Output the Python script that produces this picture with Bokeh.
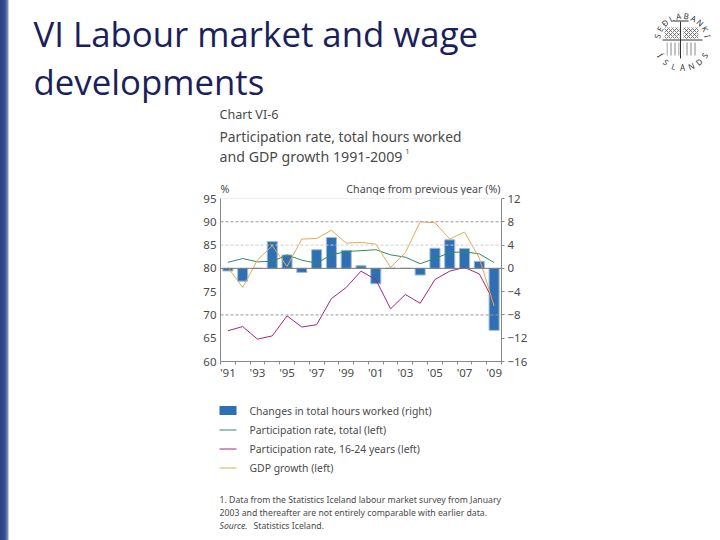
from bokeh.plotting import figure
from bokeh.models import Range1d, LinearAxis, FixedTicker, Span
from bokeh.core.properties import value
from bokeh.embed import file_html
from bokeh.resources import INLINE
import math

years = list(range(1991, 2010))
hours = [-0.45, -2.2, 0, 4.6, 2.3, -0.7, 3.2, 5.3, 3.1, 0.45, -2.65, 0, 0, -1.15, 3.45, 4.9, 3.4, 1.2, -10.65]
part_total = [81.3, 82.1, 81.4, 81.5, 82.9, 81.75, 81.1, 82.9, 83.6, 83.8, 84.0, 82.9, 82.4, 81.0, 82.1, 83.4, 83.55, 83.1, 81.25]
part_young = [66.6, 67.5, 64.8, 65.5, 69.8, 67.4, 67.9, 73.5, 75.9, 79.4, 77.6, 71.3, 74.4, 72.5, 77.6, 79.4, 80.2, 78.8, 72.8]
gdp = [80.2, 75.9, 81.8, 84.85, 80.4, 86.3, 86.4, 88.2, 85.4, 85.6, 85.2, 80.2, 83.4, 90.0, 89.8, 86.3, 87.8, 82.2, 71.9]
left_ticks = [60, 65, 70, 75, 80, 85, 90, 95]
right_ticks = [-16, -12, -8, -4, 0, 4, 8, 12]
year_ticks = list(range(1991, 2010, 2))
year_labels = ["'91", "'93", "'95", "'97", "'99", "'01", "'03", "'05", "'07", "'09"]
title_lines = ["VI Labour market and wage", "developments"]
chart_lines = ["Participation rate, total hours worked", "and GDP growth 1991-2009"]
legend_labels = ["Changes in total hours worked (right)", "Participation rate, total (left)",
                 "Participation rate, 16-24 years (left)", "GDP growth (left)"]
note_lines = ["1. Data from the Statistics Iceland labour market survey from January",
              "2003 and thereafter are not entirely comparable with earlier data."]
seal_top = "SEÐLABANKI"
seal_bottom = "ÍSLANDS"

FONT = "Noto Sans"
TXT = "#4a4a4a"
NAVY = "#1b1f5c"
BLUE, GREEN, PURPLE, ORANGE = "#2f6fb3", "#2e8b62", "#a3277f", "#e2aa55"
TOP_H, OVERLAP, CHART_H = 195, 9, 196
NOTE_Y = TOP_H - OVERLAP + CHART_H


def sheet(y_start, y_end):
    """A transparent figure whose two ranges are the window's own pixels."""
    f = figure(width=720, height=y_end - y_start, output_backend="svg", toolbar_location=None,
               x_range=Range1d(0, 720), y_range=Range1d(y_end, y_start),
               min_border=0, outline_line_color=None, background_fill_color=None,
               border_fill_color=None)
    f.axis.visible = False
    f.grid.visible = False
    return f


def txt(f, x, y, s, size, color=TXT, font=FONT, style_="normal", angle=0.0, align="left"):
    f.text(x=[x], y=[y], text=[s], text_font=value(font), text_font_size=f"{size}px", text_color=color,
           text_font_style=style_, angle=angle, text_align=align, text_baseline="middle")


# ---------- chart ----------
p = figure(width=720, height=CHART_H, output_backend="svg", toolbar_location=None,
           x_range=Range1d(1990.5, 2009.5), y_range=Range1d(60, 95),
           min_border_left=220, min_border_right=219, min_border_top=12, min_border_bottom=19,
           outline_line_color=None, background_fill_color=None, border_fill_color=None,
           margin=(-OVERLAP, 0, 0, 0))
p.extra_y_ranges = {"right": Range1d(-16, 12)}
p.grid.visible = False


def style(ax, size="11.5px"):
    ax.axis_line_color = "#888888"
    ax.major_tick_line_color = "#888888"
    ax.major_label_text_font = FONT
    ax.major_label_text_font_size = size
    ax.major_label_text_color = TXT


la = p.yaxis[0]
la.ticker = FixedTicker(ticks=left_ticks)
style(la)
la.major_tick_in = 0
la.major_tick_out = 0
la.minor_tick_line_color = None
la.major_label_standoff = 4

ra = LinearAxis(y_range_name="right", ticker=FixedTicker(ticks=right_ticks))
style(ra)
ra.major_tick_in = 0
ra.major_tick_out = 3
ra.minor_tick_line_color = None
ra.major_label_standoff = 3
p.add_layout(ra, "right")

xa = p.xaxis[0]
xa.ticker = FixedTicker(ticks=year_ticks, minor_ticks=[y - 0.5 for y in years] + [2009.5])
style(xa)
xa.major_tick_line_color = None
xa.major_tick_in = 0
xa.major_tick_out = 0
xa.minor_tick_line_color = "#888888"
xa.minor_tick_out = 3
xa.minor_tick_in = 0
xa.major_label_standoff = 0
xa.major_label_overrides = dict(zip(year_ticks, year_labels))

p.add_layout(Span(location=90, dimension="width", line_color="#999999", line_dash="3 2", line_width=1))
p.add_layout(Span(location=85, dimension="width", line_color="#cccccc", line_dash="3 2", line_width=1))
p.add_layout(Span(location=70, dimension="width", line_color="#999999", line_dash="3 2", line_width=1))
p.add_layout(Span(location=95, dimension="width", line_color="#dddddd", line_width=1))

p.vbar(x=years, top=hours, bottom=0, width=0.68, y_range_name="right",
       fill_color=BLUE, line_color="#9dbcd8", line_width=1)
p.add_layout(Span(location=80, dimension="width", line_color="#777777", line_width=1))
p.line(years, part_total, line_color=GREEN, line_width=1)
p.line(years, part_young, line_color=PURPLE, line_width=1)
p.line(years, gdp, line_color=ORANGE, line_width=1)

# ---------- texts above the chart, and the seal ----------
top = sheet(0, TOP_H)
txt(top, 33, 33, title_lines[0], 34.8, NAVY, "Open Sans")
txt(top, 33, 81, title_lines[1], 34.8, NAVY, "Open Sans")
txt(top, 219, 114, "Chart VI-6", 12.6)
txt(top, 219, 136, chart_lines[0], 13.8)
txt(top, 219, 155.5, chart_lines[1], 14.2)
txt(top, 405, 151, "1", 7)
txt(top, 220, 188.5, "%", 10.7)
txt(top, 500, 188.5, "Change from previous year (%)", 10.7, align="right")

cx, cy, r = 682, 41, 26
n = len(seal_top)
for i, ch in enumerate(seal_top):
    a = math.radians(168 - i * 156 / (n - 1))
    txt(top, cx + r * math.cos(a), cy - r * math.sin(a), ch, 8, "#333333", angle=a - math.pi / 2, align="center")
n = len(seal_bottom)
for i, ch in enumerate(seal_bottom):
    a = math.radians(212 + i * 116 / (n - 1))
    txt(top, cx + r * math.cos(a), cy - r * math.sin(a), ch, 8, "#333333", angle=a + math.pi / 2, align="center")
top.segment(x0=[662, 680, 673], y0=[39.5, 21, 20.5], x1=[702, 680, 688], y1=[39.5, 58, 20.5],
            line_color="#333333", line_width=1)
top.quad(left=[664, 683], right=[679, 698], top=[27, 27], bottom=[38, 38], fill_color=None, line_color=None,
         hatch_pattern="diagonal_cross", hatch_color="#555555", hatch_scale=4, hatch_weight=0.8)
top.quad(left=[666, 683], right=[679, 696], top=[42, 42], bottom=[55, 55], fill_color=None, line_color=None,
         hatch_pattern="vertical_line", hatch_color="#666666", hatch_scale=4, hatch_weight=0.8)

# ---------- legend and footnote ----------
note = sheet(NOTE_Y, 540)
note.quad(left=[219], right=[236], top=[405.5], bottom=[414.5], fill_color=BLUE, line_color=None)
note.segment(x0=[219, 219, 219], y0=[429.5, 448.5, 467.5], x1=[236, 236, 236], y1=[429.5, 448.5, 467.5],
             line_color=[GREEN, PURPLE, ORANGE], line_width=1)
for yy, lab in zip([410, 429, 448, 467], legend_labels):
    txt(note, 249, yy, lab, 10.4)
txt(note, 219, 499, note_lines[0], 8.7)
txt(note, 219, 512, note_lines[1], 8.7)
txt(note, 219, 525, "Source.", 8.7, style_="italic")
txt(note, 253, 525, "Statistics Iceland.", 8.7)

html = file_html([top, p, note], INLINE)
# blue strip along the window's left edge
html = html.replace("<head>", "<head><style>html{background:linear-gradient(to right,#2b3f80 0,#33508f 5px,#8794bb 8px,#fff 9px)}</style>", 1)
open("out.html", "w").write(html)
